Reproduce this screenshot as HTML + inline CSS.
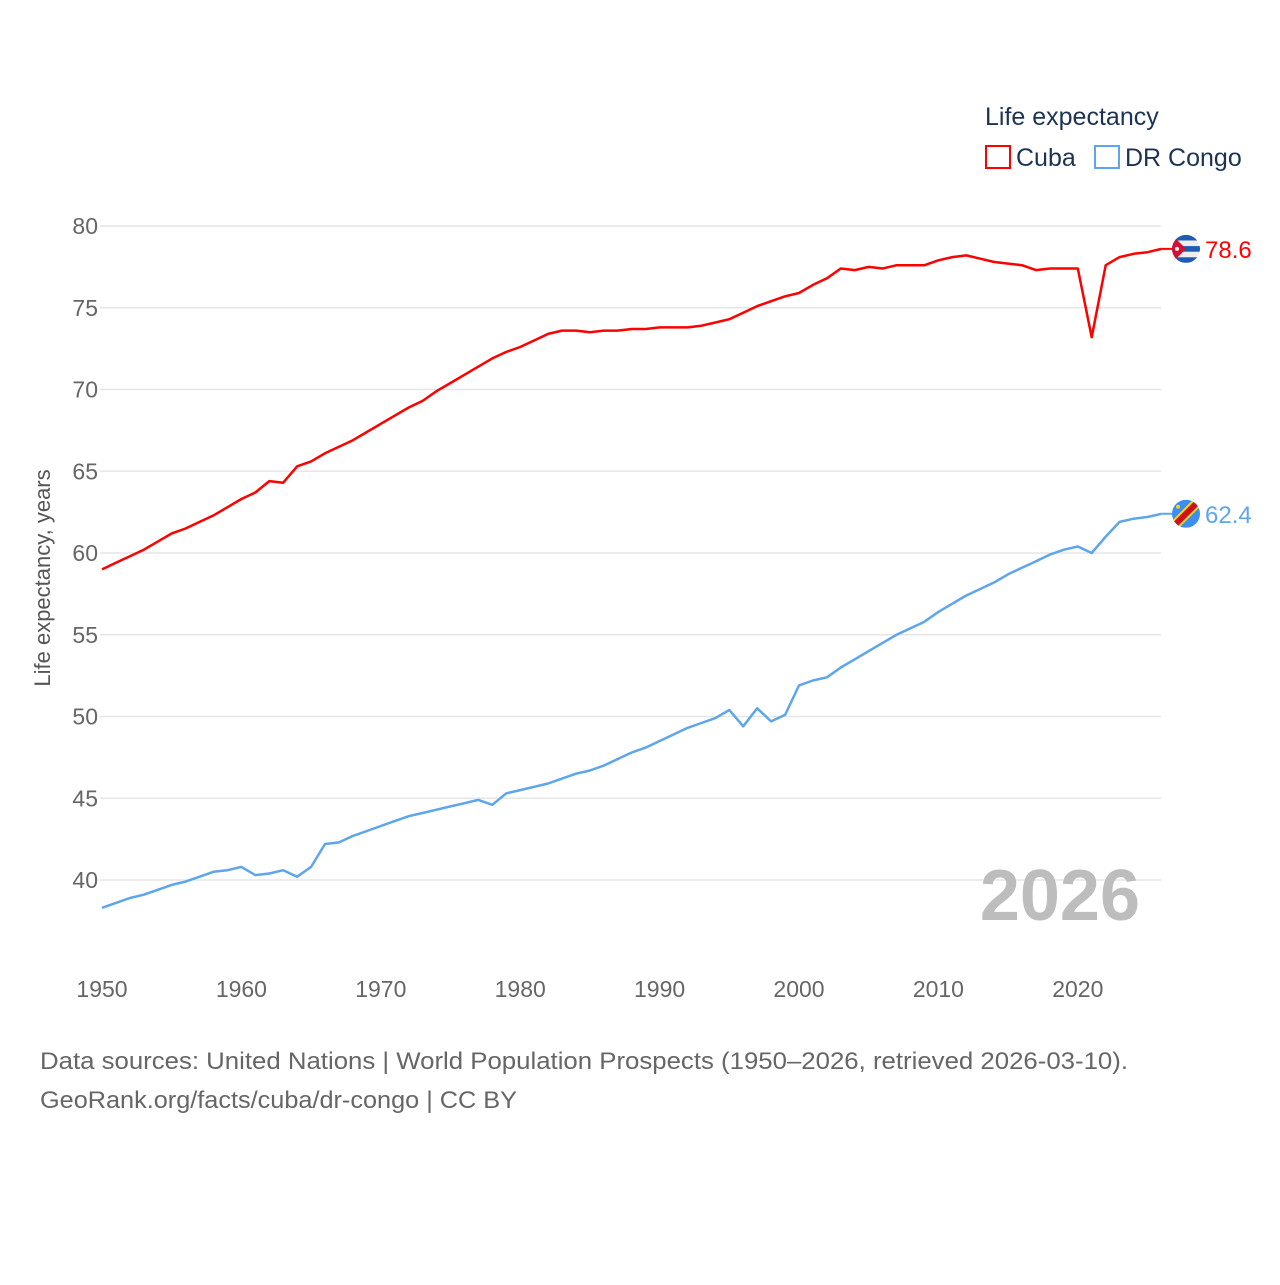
<!DOCTYPE html>
<html><head><meta charset="utf-8"><style>
body{margin:0;background:#fff;font-family:"Liberation Sans",sans-serif}
svg text{font-family:"Liberation Sans",sans-serif}
</style></head><body>
<svg id="chart" width="1280" height="1280" viewBox="0 0 1280 1280" xmlns="http://www.w3.org/2000/svg">
<rect width="1280" height="1280" fill="#fff"/>
<text x="985" y="125" font-size="25" fill="#1c3353">Life expectancy</text>
<g><rect x="986" y="146" width="24" height="22" fill="none" stroke="#ff0000" stroke-width="2"/><text x="1016" y="166" font-size="25" fill="#1c3353">Cuba</text></g>
<g><rect x="1095" y="146" width="24" height="22" fill="none" stroke="#5da5ec" stroke-width="2"/><text x="1125" y="166" font-size="25" fill="#1c3353">DR Congo</text></g>
<g id="grid"></g>
<g id="yticks"></g>
<g id="xticks"></g>
<text transform="translate(50,578) rotate(-90)" text-anchor="middle" font-size="22" fill="#555">Life expectancy, years</text>
<text x="1140" y="920" text-anchor="end" font-size="72" font-weight="bold" fill="#bdbdbd">2026</text>
<g id="series"></g>
<text x="40" y="1069" font-size="24" fill="#666" textLength="1088" lengthAdjust="spacingAndGlyphs">Data sources: United Nations | World Population Prospects (1950–2026, retrieved 2026-03-10).</text>
<text x="40" y="1108" font-size="24" fill="#666" textLength="477" lengthAdjust="spacingAndGlyphs">GeoRank.org/facts/cuba/dr-congo | CC BY</text>
</svg>
<script>
const years=[];for(let y=1950;y<=2026;y++)years.push(y);
const cuba=[59.0,59.4,59.8,60.2,60.7,61.2,61.5,61.9,62.3,62.8,63.3,63.7,64.4,64.3,65.3,65.6,66.1,66.5,66.9,67.4,67.9,68.4,68.9,69.3,69.9,70.4,70.9,71.4,71.9,72.3,72.6,73.0,73.4,73.6,73.6,73.5,73.6,73.6,73.7,73.7,73.8,73.8,73.8,73.9,74.1,74.3,74.7,75.1,75.4,75.7,75.9,76.4,76.8,77.4,77.3,77.5,77.4,77.6,77.6,77.6,77.9,78.1,78.2,78.0,77.8,77.7,77.6,77.3,77.4,77.4,77.4,73.2,77.6,78.1,78.3,78.4,78.6];
const congo=[38.3,38.6,38.9,39.1,39.4,39.7,39.9,40.2,40.5,40.6,40.8,40.3,40.4,40.6,40.2,40.8,42.2,42.3,42.7,43.0,43.3,43.6,43.9,44.1,44.3,44.5,44.7,44.9,44.6,45.3,45.5,45.7,45.9,46.2,46.5,46.7,47.0,47.4,47.8,48.1,48.5,48.9,49.3,49.6,49.9,50.4,49.4,50.5,49.7,50.1,51.9,52.2,52.4,53.0,53.5,54.0,54.5,55.0,55.4,55.8,56.4,56.9,57.4,57.8,58.2,58.7,59.1,59.5,59.9,60.2,60.4,60.0,61.0,61.9,62.1,62.2,62.4];
const yTicks=[40,45,50,55,60,65,70,75,80];
const xTicks=[1950,1960,1970,1980,1990,2000,2010,2020];
const NS="http://www.w3.org/2000/svg";
const X=y=>102+(y-1950)*13.94;
const Y=v=>226+(80-v)*16.35;
function mk(t,a,p){const e=document.createElementNS(NS,t);for(const k in a)e.setAttribute(k,a[k]);p.appendChild(e);return e;}
const grid=document.getElementById('grid'),yt=document.getElementById('yticks'),xt=document.getElementById('xticks'),ser=document.getElementById('series');
yTicks.forEach(v=>{
 const l=mk('line',{x1:100,x2:1161,y1:Y(v),y2:Y(v),stroke:'#e6e6e6','stroke-width':1.5},grid);
 
 
 const t=mk('text',{x:98,y:Y(v)+8,'text-anchor':'end','font-size':23,fill:'#666'},yt);t.textContent=v;
 
 
});
xTicks.forEach(v=>{
 const t=mk('text',{x:X(v),y:997,'text-anchor':'middle','font-size':23,fill:'#666'},xt);t.textContent=v;
 
 
});
function line(data,color,name,label){
 const d=data.map((v,i)=>(i?'L':'M')+X(years[i]).toFixed(1)+','+Y(v).toFixed(1)).join('');
 const p=mk('path',{d:d,fill:'none',stroke:color,'stroke-width':2.5,'stroke-linejoin':'round'},ser);
 
 
 const last=data[data.length-1],ly=Y(last),lx=X(years[years.length-1]);
 mk('line',{x1:lx,x2:1172,y1:ly,y2:ly,stroke:color,'stroke-width':2},ser);
 const g=mk('g',{},ser);
 
 
 if(name==='cuba'){
  mk('clipPath',{id:'cc'},g);
  const c=document.getElementById('cc');mk('circle',{cx:1186,cy:ly,r:14},c);
  const gg=mk('g',{'clip-path':'url(#cc)'},g);
  mk('rect',{x:1172,y:ly-14,width:28,height:28,fill:'#eee'},gg);
  for(let k=0;k<3;k++)mk('rect',{x:1172,y:ly-14+k*11.2,width:28,height:5.6,fill:'#1d5bb5'},gg);
  mk('polygon',{points:`1172,${ly-14} 1186,${ly} 1172,${ly+14}`,fill:'#d21034'},gg);
  mk('circle',{cx:1177,cy:ly,r:2,fill:'#fff'},gg);
 }else{
  mk('clipPath',{id:'cg'},g);
  const c=document.getElementById('cg');mk('circle',{cx:1186,cy:ly,r:14},c);
  const gg=mk('g',{'clip-path':'url(#cg)'},g);
  mk('rect',{x:1172,y:ly-14,width:28,height:28,fill:'#3a8ff0'},gg);
  mk('line',{x1:1172,y1:ly+14,x2:1200,y2:ly-14,stroke:'#f7d618','stroke-width':10},gg);
  mk('line',{x1:1172,y1:ly+14,x2:1200,y2:ly-14,stroke:'#ce1021','stroke-width':6},gg);
  mk('circle',{cx:1178,cy:ly-7,r:2,fill:'#f7d618'},gg);
 }
 const t=mk('text',{x:1205,y:ly+9,'font-size':24,fill:color},ser);t.textContent=label;
 
 
}
line(cuba,'#ff0000','cuba',cuba[cuba.length-1].toFixed(1));
line(congo,'#5da5ec','dr-congo',congo[congo.length-1].toFixed(1));
</script>
</body></html>
